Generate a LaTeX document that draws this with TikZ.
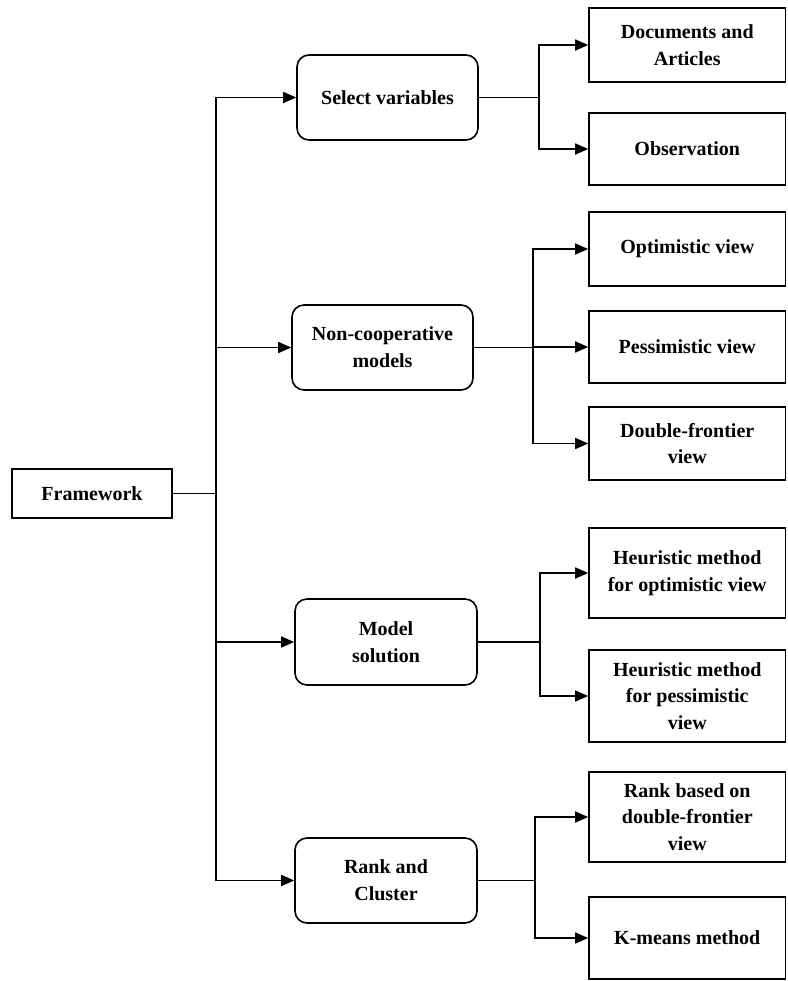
\documentclass[tikz,border=0pt]{standalone}
\usepackage{fontspec}
\setmainfont{Liberation Serif}
\usetikzlibrary{arrows.meta}
\begin{document}
\begin{tikzpicture}[x=1pt,y=-1pt,
  every node/.style={font=\fontsize{20}{26.7}\selectfont\bfseries, align=center, inner sep=0pt},
  midbox/.style={draw, line width=1.6pt, rounded corners=12pt, minimum width=182pt, minimum height=85pt},
  leafbox/.style={draw, line width=1.6pt, minimum width=196.5pt},
  rootbox/.style={draw, line width=1.6pt, minimum width=160pt, minimum height=49.5pt},
  conn/.style={line width=1.6pt},
  arr/.style={line width=1.6pt, -{Triangle[length=13pt,width=11pt]}}]
\useasboundingbox (0,0) rectangle (787,981);
% root
\node[rootbox] (fw) at (92,493.5) {Framework};
% middle level
\node[midbox, minimum width=181pt] (sv) at (387.5,97.5) {Select variables};
\node[midbox, minimum width=181pt] (nc) at (382.5,347.5) {Non-cooperative\\models};
\node[midbox, minimum height=86pt] (ms) at (386,642) {Model\\solution};
\node[midbox] (rc) at (386,880.5) {Rank and\\Cluster};
% leaves
\node[leafbox, minimum height=74pt] (doc) at (687.25,45) {Documents and\\Articles};
\node[leafbox, minimum height=72pt] (obs) at (687.25,149) {Observation};
\node[leafbox, minimum height=74pt] (opt) at (687.25,249) {Optimistic view};
\node[leafbox, minimum height=72pt] (pes) at (687.25,347) {Pessimistic view};
\node[leafbox, minimum height=73pt] (dbl) at (687.25,443.5) {Double-frontier\\view};
\node[leafbox, minimum height=90pt] (ho) at (687.25,573) {Heuristic method\\for optimistic view};
\node[leafbox, minimum height=92pt] (hp) at (687.25,696) {Heuristic method\\for pessimistic\\view};
\node[leafbox, minimum height=90pt] (rb) at (687.25,817) {Rank based on\\double-frontier\\view};
\node[leafbox, minimum height=82pt] (km) at (687.25,938) {K-means method};
% trunk
\coordinate (tj) at (216,493.5);
\draw[conn] (fw.east) -- (tj);
\draw[arr] (tj) |- (sv.west);
\draw[arr] (tj) |- (nc.west);
\draw[arr] (tj) |- (ms.west);
\draw[arr] (tj) |- (rc.west);
% branches
\coordinate (b1) at (539,97.5);
\coordinate (b2) at (533,347.5);
\coordinate (b3) at (540,642);
\coordinate (b4) at (535,880.5);
\draw[conn] (sv.east) -- (b1);
\draw[arr] (b1) |- (doc.west);
\draw[arr] (b1) |- (obs.west);
\draw[conn] (nc.east) -- (b2);
\draw[arr] (b2) |- (opt.west);
\draw[arr] (b2) |- (pes.west);
\draw[arr] (b2) |- (dbl.west);
\draw[conn] (ms.east) -- (b3);
\draw[arr] (b3) |- (ho.west);
\draw[arr] (b3) |- (hp.west);
\draw[conn] (rc.east) -- (b4);
\draw[arr] (b4) |- (rb.west);
\draw[arr] (b4) |- (km.west);
\end{tikzpicture}
\end{document}
